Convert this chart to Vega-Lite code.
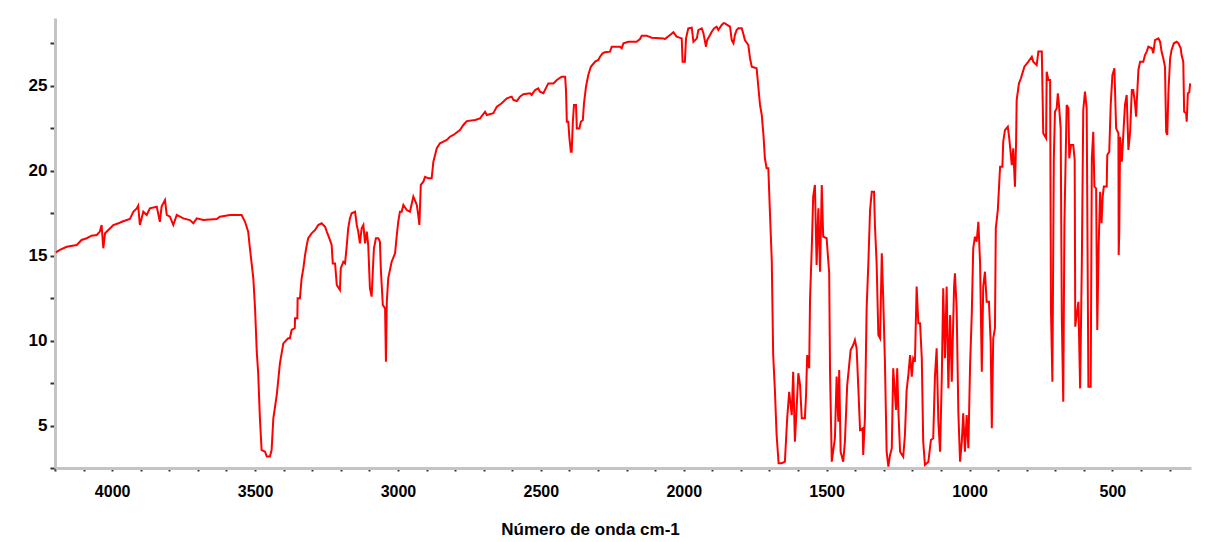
{
  "$schema": "https://vega.github.io/schema/vega-lite/v6.json",
  "autosize": "none",
  "width": 1136,
  "height": 450,
  "padding": {"left": 55, "top": 18, "right": 16, "bottom": 74},
  "background": "white",
  "config": {
    "view": {"stroke": null},
    "font": "Liberation Sans"
  },
  "data": {
    "values": [
      {"wn":4197,"t":15.20},{"wn":4183,"t":15.34},{"wn":4159,"t":15.53},{"wn":4124,"t":15.63},{"wn":4107,"t":15.93},{"wn":4089,"t":16.03},{"wn":4072,"t":16.18},{"wn":4054,"t":16.22},{"wn":4043,"t":16.42},{"wn":4037,"t":16.81},{"wn":4031,"t":15.44},{"wn":4025,"t":16.32},{"wn":4007,"t":16.62},{"wn":3996,"t":16.81},{"wn":3978,"t":16.91},{"wn":3966,"t":17.00},{"wn":3938,"t":17.16},{"wn":3926,"t":17.59},{"wn":3914,"t":17.79},{"wn":3909,"t":17.95},{"wn":3903,"t":16.81},{"wn":3891,"t":17.59},{"wn":3879,"t":17.40},{"wn":3868,"t":17.79},{"wn":3844,"t":17.89},{"wn":3833,"t":17.00},{"wn":3827,"t":17.89},{"wn":3815,"t":18.28},{"wn":3809,"t":17.40},{"wn":3798,"t":17.30},{"wn":3786,"t":16.81},{"wn":3774,"t":17.40},{"wn":3751,"t":17.20},{"wn":3728,"t":17.10},{"wn":3716,"t":16.91},{"wn":3704,"t":17.20},{"wn":3681,"t":17.10},{"wn":3634,"t":17.16},{"wn":3623,"t":17.30},{"wn":3588,"t":17.40},{"wn":3547,"t":17.40},{"wn":3535,"t":17.00},{"wn":3524,"t":16.42},{"wn":3518,"t":15.44},{"wn":3512,"t":14.55},{"wn":3506,"t":13.67},{"wn":3500,"t":11.90},{"wn":3494,"t":9.35},{"wn":3489,"t":8.08},{"wn":3483,"t":5.43},{"wn":3477,"t":3.56},{"wn":3465,"t":3.46},{"wn":3459,"t":3.17},{"wn":3448,"t":3.17},{"wn":3442,"t":3.56},{"wn":3436,"t":5.43},{"wn":3424,"t":6.80},{"wn":3413,"t":8.66},{"wn":3401,"t":9.84},{"wn":3384,"t":10.14},
      {"wn":3378,"t":10.14},{"wn":3372,"t":10.63},{"wn":3361,"t":10.73},{"wn":3360,"t":11.32},{"wn":3352,"t":11.32},{"wn":3351,"t":12.49},{"wn":3343,"t":12.49},{"wn":3337,"t":13.67},{"wn":3331,"t":14.26},{"wn":3325,"t":15.04},{"wn":3319,"t":15.63},{"wn":3314,"t":16.03},{"wn":3302,"t":16.32},{"wn":3290,"t":16.52},{"wn":3279,"t":16.81},{"wn":3267,"t":16.91},{"wn":3255,"t":16.71},{"wn":3249,"t":16.42},{"wn":3238,"t":15.93},{"wn":3232,"t":15.63},{"wn":3228,"t":14.55},{"wn":3220,"t":14.55},{"wn":3214,"t":13.28},{"wn":3203,"t":12.98},{"wn":3200,"t":14.26},{"wn":3191,"t":14.65},{"wn":3185,"t":14.55},{"wn":3179,"t":15.63},{"wn":3174,"t":16.62},{"wn":3168,"t":17.20},{"wn":3162,"t":17.50},{"wn":3150,"t":17.59},{"wn":3144,"t":16.81},{"wn":3139,"t":16.42},{"wn":3133,"t":15.73},{"wn":3127,"t":16.62},{"wn":3121,"t":16.81},{"wn":3115,"t":15.73},{"wn":3109,"t":16.42},{"wn":3104,"t":15.63},{"wn":3098,"t":13.08},{"wn":3092,"t":12.59},{"wn":3088,"t":14.06},{"wn":3084,"t":15.44},{"wn":3077,"t":16.03},{"wn":3069,"t":16.03},{"wn":3063,"t":15.83},{"wn":3060,"t":14.26},{"wn":3053,"t":12.10},{"wn":3045,"t":11.90},{"wn":3042,"t":8.76},{"wn":3039,"t":12.29},{"wn":3034,"t":13.67},{"wn":3022,"t":14.65},{"wn":3010,"t":15.14},{"wn":3004,"t":16.22},{"wn":2999,"t":17.00},{"wn":2993,"t":17.59},{"wn":2987,"t":17.59},{"wn":2981,"t":17.99},{"wn":2969,"t":17.69},{"wn":2958,"t":17.59},{"wn":2946,"t":18.48},{"wn":2934,"t":17.99},{"wn":2929,"t":17.40},{"wn":2925,"t":16.81},{"wn":2920,"t":19.17},{"wn":2911,"t":19.36},{"wn":2905,"t":19.65},{"wn":2894,"t":19.56},{"wn":2882,"t":19.56},{"wn":2876,"t":20.54},{"wn":2864,"t":21.33},{"wn":2853,"t":21.62},{"wn":2841,"t":21.72},{"wn":2829,"t":21.82},{"wn":2818,"t":22.01},{"wn":2806,"t":22.11},{"wn":2783,"t":22.40},{"wn":2771,"t":22.70},{"wn":2759,"t":22.93},{"wn":2730,"t":22.99},{"wn":2713,"t":23.09},{"wn":2695,"t":23.48},{"wn":2689,"t":23.29},{"wn":2666,"t":23.39},{"wn":2654,"t":23.78},{"wn":2637,"t":23.98},{"wn":2619,"t":24.27},{"wn":2602,"t":24.37},{"wn":2596,"t":24.17},{"wn":2584,"t":24.11},{"wn":2573,"t":24.37},{"wn":2561,"t":24.51},{"wn":2538,"t":24.57},{"wn":2532,"t":24.47},{"wn":2520,"t":24.76},{"wn":2509,"t":24.86},{"wn":2503,"t":24.66},
      {"wn":2491,"t":24.57},{"wn":2474,"t":25.15},{"wn":2456,"t":25.15},{"wn":2444,"t":25.35},{"wn":2427,"t":25.54},{"wn":2415,"t":25.54},{"wn":2412,"t":24.76},{"wn":2409,"t":22.89},{"wn":2404,"t":22.89},{"wn":2400,"t":21.92},{"wn":2395,"t":21.13},{"wn":2392,"t":21.13},{"wn":2388,"t":22.89},{"wn":2384,"t":23.88},{"wn":2377,"t":23.88},{"wn":2374,"t":22.50},{"wn":2365,"t":22.50},{"wn":2360,"t":22.89},{"wn":2353,"t":22.99},{"wn":2349,"t":23.98},{"wn":2342,"t":24.95},{"wn":2334,"t":25.64},{"wn":2325,"t":26.13},{"wn":2310,"t":26.43},{"wn":2299,"t":26.53},{"wn":2293,"t":26.72},{"wn":2284,"t":26.92},{"wn":2276,"t":26.98},{"wn":2258,"t":27.02},{"wn":2252,"t":27.31},{"wn":2223,"t":27.31},{"wn":2217,"t":27.22},{"wn":2211,"t":27.51},{"wn":2194,"t":27.60},{"wn":2165,"t":27.60},{"wn":2153,"t":27.76},{"wn":2147,"t":27.96},{"wn":2130,"t":27.96},{"wn":2112,"t":27.84},{"wn":2071,"t":27.80},{"wn":2066,"t":27.76},{"wn":2048,"t":28.00},{"wn":2036,"t":28.16},{"wn":2025,"t":27.90},{"wn":2007,"t":27.80},{"wn":2004,"t":26.43},{"wn":1996,"t":26.43},{"wn":1992,"t":27.80},{"wn":1984,"t":28.39},{"wn":1972,"t":28.43},{"wn":1966,"t":27.60},{"wn":1954,"t":27.80},{"wn":1949,"t":28.29},{"wn":1937,"t":28.39},{"wn":1931,"t":28.10},{"wn":1922,"t":27.31},{"wn":1918,"t":27.70},{"wn":1908,"t":28.00},{"wn":1902,"t":28.19},{"wn":1894,"t":28.39},{"wn":1885,"t":28.49},{"wn":1879,"t":28.29},{"wn":1867,"t":28.59},{"wn":1861,"t":28.69},{"wn":1856,"t":28.69},{"wn":1848,"t":28.59},{"wn":1838,"t":28.49},{"wn":1832,"t":27.70},{"wn":1826,"t":27.51},{"wn":1821,"t":28.00},{"wn":1815,"t":28.29},{"wn":1809,"t":28.39},{"wn":1797,"t":28.39},{"wn":1792,"t":28.10},{"wn":1786,"t":27.70},{"wn":1774,"t":27.41},{"wn":1768,"t":26.63},{"wn":1762,"t":26.13},{"wn":1745,"t":26.04},{"wn":1739,"t":24.95},{"wn":1733,"t":23.88},{"wn":1727,"t":23.29},{"wn":1721,"t":22.11},{"wn":1716,"t":20.74},{"wn":1710,"t":20.15},{"wn":1704,"t":20.15},{"wn":1698,"t":17.40},{"wn":1692,"t":14.75},{"wn":1687,"t":9.15},{"wn":1681,"t":7.09},{"wn":1675,"t":4.44},{"wn":1668,"t":2.78},
      {"wn":1657,"t":2.78},{"wn":1646,"t":2.87},{"wn":1638,"t":5.43},{"wn":1631,"t":6.99},{"wn":1622,"t":5.62},{"wn":1617,"t":8.17},{"wn":1611,"t":4.05},{"wn":1605,"t":6.02},{"wn":1599,"t":8.08},{"wn":1593,"t":7.39},{"wn":1587,"t":5.43},{"wn":1576,"t":5.43},{"wn":1572,"t":6.80},{"wn":1568,"t":9.15},{"wn":1561,"t":8.37},{"wn":1558,"t":12.49},{"wn":1552,"t":15.44},{"wn":1547,"t":18.48},{"wn":1541,"t":19.17},{"wn":1535,"t":14.45},{"wn":1529,"t":17.79},{"wn":1523,"t":14.06},{"wn":1517,"t":19.17},{"wn":1512,"t":16.12},{"wn":1500,"t":16.03},{"wn":1491,"t":13.97},{"wn":1488,"t":8.08},{"wn":1482,"t":2.87},{"wn":1471,"t":4.25},{"wn":1465,"t":7.88},{"wn":1459,"t":5.23},{"wn":1456,"t":8.27},{"wn":1451,"t":3.46},{"wn":1442,"t":2.87},{"wn":1436,"t":4.05},{"wn":1428,"t":7.39},{"wn":1421,"t":8.57},{"wn":1416,"t":9.45},{"wn":1407,"t":9.74},{"wn":1401,"t":10.04},{"wn":1395,"t":9.55},{"wn":1389,"t":7.19},{"wn":1383,"t":4.74},{"wn":1374,"t":4.84},{"wn":1372,"t":3.27},{"wn":1366,"t":5.43},{"wn":1360,"t":11.90},{"wn":1354,"t":14.55},{"wn":1348,"t":17.69},{"wn":1342,"t":18.77},{"wn":1334,"t":18.77},{"wn":1331,"t":16.81},{"wn":1325,"t":14.55},{"wn":1319,"t":10.33},{"wn":1313,"t":10.14},{"wn":1307,"t":15.14},{"wn":1302,"t":12.49},{"wn":1296,"t":8.76},{"wn":1290,"t":3.46},{"wn":1284,"t":2.58},{"wn":1278,"t":3.27},{"wn":1272,"t":3.66},{"wn":1267,"t":8.37},{"wn":1257,"t":5.92},{"wn":1253,"t":8.37},{"wn":1249,"t":5.92},{"wn":1243,"t":3.46},{"wn":1232,"t":3.17},{"wn":1226,"t":4.44},{"wn":1220,"t":7.09},{"wn":1214,"t":7.98},{"wn":1208,"t":9.15},{"wn":1202,"t":7.88},{"wn":1197,"t":8.96},{"wn":1191,"t":8.76},{"wn":1185,"t":13.18},{"wn":1179,"t":11.02},{"wn":1173,"t":11.02},
      {"wn":1167,"t":8.96},{"wn":1162,"t":4.05},{"wn":1156,"t":2.68},{"wn":1144,"t":2.87},{"wn":1135,"t":4.15},{"wn":1127,"t":4.25},{"wn":1121,"t":7.88},{"wn":1115,"t":9.55},{"wn":1109,"t":5.23},{"wn":1103,"t":3.46},{"wn":1097,"t":7.88},{"wn":1092,"t":13.08},{"wn":1086,"t":8.96},{"wn":1080,"t":13.18},{"wn":1074,"t":7.19},{"wn":1068,"t":11.51},{"wn":1062,"t":7.58},{"wn":1059,"t":9.74},{"wn":1054,"t":13.18},{"wn":1051,"t":13.97},{"wn":1045,"t":11.90},{"wn":1039,"t":5.72},{"wn":1033,"t":2.87},{"wn":1027,"t":4.05},{"wn":1022,"t":5.72},{"wn":1016,"t":3.46},{"wn":1010,"t":5.62},{"wn":1004,"t":3.66},{"wn":998,"t":8.57},{"wn":992,"t":11.61},{"wn":987,"t":15.44},{"wn":981,"t":16.12},{"wn":975,"t":15.83},{"wn":969,"t":17.00},{"wn":963,"t":14.55},{"wn":957,"t":8.17},{"wn":952,"t":13.18},{"wn":946,"t":14.06},{"wn":940,"t":12.29},{"wn":932,"t":12.29},{"wn":926,"t":9.94},{"wn":922,"t":4.84},{"wn":917,"t":10.14},{"wn":911,"t":10.73},{"wn":908,"t":16.62},{"wn":901,"t":17.69},{"wn":893,"t":20.24},{"wn":885,"t":20.24},{"wn":882,"t":21.72},{"wn":876,"t":22.40},{"wn":866,"t":22.60},{"wn":861,"t":21.92},{"wn":852,"t":20.34},{"wn":847,"t":21.33},{"wn":841,"t":19.07},{"wn":837,"t":21.72},{"wn":835,"t":24.17},{"wn":827,"t":25.15},{"wn":820,"t":25.45},{"wn":815,"t":25.74},{"wn":808,"t":26.13},{"wn":794,"t":26.43},{"wn":782,"t":26.72},{"wn":777,"t":26.43},{"wn":765,"t":26.23},{"wn":759,"t":27.02},{"wn":747,"t":27.02},{"wn":742,"t":22.21},{"wn":732,"t":21.92},{"wn":730,"t":25.84},{"wn":724,"t":25.35},{"wn":718,"t":25.35},{"wn":715,"t":11.80},{"wn":710,"t":7.58},{"wn":705,"t":20.74},{"wn":701,"t":23.48},{"wn":695,"t":23.68},{"wn":691,"t":24.57},{"wn":687,"t":23.88},{"wn":681,"t":22.50},{"wn":677,"t":11.32},{"wn":672,"t":6.40},{"wn":668,"t":16.81},
      {"wn":660,"t":23.88},{"wn":654,"t":23.68},{"wn":651,"t":20.74},{"wn":645,"t":21.52},{"wn":637,"t":21.52},{"wn":632,"t":20.64},{"wn":630,"t":10.82},{"wn":625,"t":11.51},{"wn":619,"t":12.29},{"wn":613,"t":7.19},{"wn":607,"t":14.55},{"wn":602,"t":23.58},{"wn":596,"t":24.66},{"wn":590,"t":23.68},{"wn":584,"t":7.29},{"wn":576,"t":7.29},{"wn":572,"t":20.74},{"wn":567,"t":22.30},{"wn":563,"t":19.07},{"wn":557,"t":18.97},{"wn":553,"t":10.63},{"wn":548,"t":15.63},{"wn":543,"t":18.77},{"wn":538,"t":16.91},{"wn":534,"t":18.48},{"wn":530,"t":19.07},{"wn":520,"t":19.07},{"wn":518,"t":20.93},{"wn":511,"t":21.13},{"wn":506,"t":23.88},{"wn":500,"t":25.64},{"wn":493,"t":26.04},{"wn":487,"t":22.50},{"wn":479,"t":22.21},{"wn":478,"t":15.04},{"wn":476,"t":16.42},{"wn":473,"t":22.01},{"wn":467,"t":20.54},{"wn":462,"t":22.11},{"wn":456,"t":23.88},{"wn":450,"t":24.47},{"wn":444,"t":21.23},{"wn":438,"t":22.30},{"wn":432,"t":24.76},{"wn":427,"t":24.76},{"wn":421,"t":23.98},{"wn":417,"t":23.19},{"wn":415,"t":23.98},{"wn":409,"t":25.94},{"wn":403,"t":26.43},{"wn":392,"t":26.43},{"wn":386,"t":26.82},{"wn":380,"t":27.02},{"wn":374,"t":27.31},{"wn":362,"t":27.22},{"wn":357,"t":26.92},{"wn":351,"t":27.70},{"wn":339,"t":27.80},{"wn":333,"t":27.60},{"wn":328,"t":27.02},{"wn":322,"t":26.63},{"wn":316,"t":26.13},{"wn":312,"t":22.30},{"wn":308,"t":22.11},{"wn":304,"t":24.66},{"wn":298,"t":26.63},{"wn":293,"t":27.12},{"wn":285,"t":27.51},{"wn":275,"t":27.60},{"wn":269,"t":27.51},{"wn":261,"t":27.22},{"wn":258,"t":26.82},{"wn":252,"t":26.43},{"wn":249,"t":23.48},{"wn":242,"t":23.39},{"wn":240,"t":22.89},{"wn":236,"t":24.57},{"wn":231,"t":24.62},{"wn":228,"t":25.15}
    ]
  },
  "mark": {"type": "line", "color": "#ff0000", "strokeWidth": 2, "clip": true},
  "encoding": {
    "x": {
      "field": "wn",
      "type": "quantitative",
      "scale": {"domain": [225, 4200], "reverse": true, "nice": false, "zero": false},
      "axis": {
        "title": "Número de onda cm-1",
        "titleFont": "Liberation Sans",
        "titleFontSize": 17,
        "titleFontWeight": "bold",
        "titleColor": "#000000",
        "titlePadding": 22,
        "titleX": 535,
        "tickCount": 40,
        "format": "d",
        "labelExpr": "datum.value % 500 === 0 ? datum.label : ''",
        "labelOverlap": false,
        "labelFont": "Liberation Sans",
        "labelFontSize": 16,
        "labelFontWeight": "bold",
        "labelColor": "#000000",
        "labelPadding": 12,
        "domainColor": "#c4c4c4",
        "domainWidth": 3,
        "tickColor": "#333333",
        "tickSize": 3,
        "tickWidth": 2,
        "grid": false
      }
    },
    "y": {
      "field": "t",
      "type": "quantitative",
      "scale": {"domain": [2.5, 29], "nice": false, "zero": false},
      "axis": {
        "title": null,
        "values": [2.5, 5, 7.5, 10, 12.5, 15, 17.5, 20, 22.5, 25, 27.5],
        "format": "d",
        "labelExpr": "datum.value % 5 === 0 ? datum.label : ''",
        "labelOverlap": false,
        "labelFont": "Liberation Sans",
        "labelFontSize": 17,
        "labelFontWeight": "bold",
        "labelColor": "#000000",
        "labelPadding": 3,
        "domainColor": "#c4c4c4",
        "domainWidth": 3,
        "tickColor": "#333333",
        "tickSize": 5,
        "tickWidth": 2,
        "grid": false
      }
    }
  }
}
